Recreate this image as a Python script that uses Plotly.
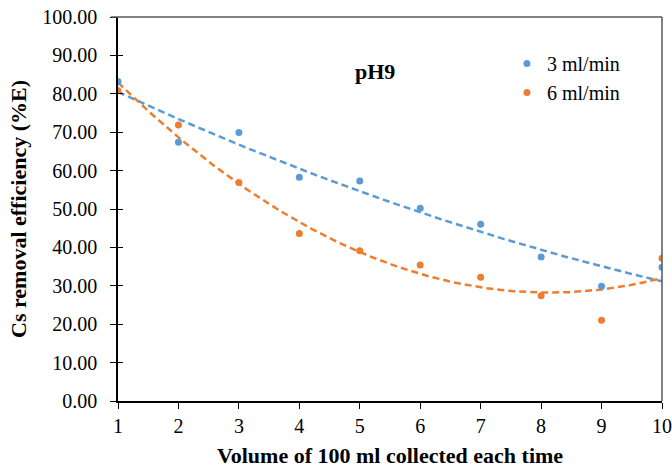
import numpy as np
import plotly.graph_objects as go

# Data
volumes = [1, 2, 3, 4, 5, 6, 7, 8, 9, 10]
eff_3ml = [83.2, 67.4, 69.9, 58.3, 57.3, 50.2, 46.0, 37.5, 29.9, 34.8]
eff_6ml = [80.8, 71.9, 56.9, 43.6, 39.1, 35.4, 32.2, 27.4, 21.0, 37.2]
series_names = ["3 ml/min", "6 ml/min"]
y_ticks = [0, 10, 20, 30, 40, 50, 60, 70, 80, 90, 100]

BLUE = "#5B9BD5"
ORANGE = "#ED7D31"
FONT = "Liberation Serif, Times New Roman, serif"

fig = go.Figure()

xfit = np.linspace(1, 10, 200)
for vals, col in [(eff_3ml, BLUE), (eff_6ml, ORANGE)]:
    coef = np.polyfit(volumes, vals, 2)
    fig.add_trace(go.Scatter(
        x=xfit, y=np.polyval(coef, xfit), mode="lines",
        line=dict(color=col, width=2.5, dash="7px,4px"),
        showlegend=False, hoverinfo="skip"))

for name, vals, col in [(series_names[0], eff_3ml, BLUE), (series_names[1], eff_6ml, ORANGE)]:
    fig.add_trace(go.Scatter(
        x=volumes, y=vals, mode="markers", name=name,
        marker=dict(color=col, size=7)))

# invisible trace on overlay axis for crossing ticks
fig.add_trace(go.Scatter(x=[None], y=[None], yaxis="y2", showlegend=False))

fig.update_layout(
    width=672, height=472,
    margin=dict(l=118, r=10, t=17, b=71, autoexpand=False),
    paper_bgcolor="white", plot_bgcolor="white",
    font=dict(family=FONT, size=20, color="black"),
    xaxis=dict(
        range=[1, 10], tickmode="array", tickvals=volumes,
        ticks="outside", ticklen=6, tickcolor="black", tickwidth=1,
        showline=True, linecolor="black", linewidth=1.5,
        showgrid=False, zeroline=False, automargin=False,
        tickfont=dict(family=FONT, size=20),
        title=dict(text="<b>Volume of 100 ml collected each time</b>",
                   font=dict(family=FONT, size=22), standoff=12),
    ),
    yaxis=dict(
        range=[0, 100], tickmode="array", tickvals=y_ticks,
        tickformat=".2f",
        ticks="outside", ticklen=6, tickcolor="black", tickwidth=1,
        ticklabelstandoff=9,
        showline=True, linecolor="black", linewidth=1.5,
        showgrid=False, zeroline=False, automargin=False,
        tickfont=dict(family=FONT, size=20),
        title=dict(text="<b>Cs removal efficiency (%E)</b>",
                   font=dict(family=FONT, size=22), standoff=10),
    ),
    yaxis2=dict(
        range=[0, 100], tickmode="array", tickvals=y_ticks,
        overlaying="y", side="left", ticks="inside", ticklen=5,
        tickcolor="black", showticklabels=False, showgrid=False,
        zeroline=False, showline=False, automargin=False,
    ),
    legend=dict(
        x=0.715, y=0.93, xanchor="left", yanchor="top",
        bgcolor="rgba(0,0,0,0)", font=dict(family=FONT, size=20),
        itemwidth=30, tracegroupgap=0,
    ),
    shapes=[
        dict(type="line", xref="paper", yref="paper", x0=-0.013, x1=1, y0=1, y1=1,
             line=dict(color="#595959", width=1.5)),
        dict(type="line", xref="paper", yref="paper", x0=1, x1=1, y0=0, y1=1,
             line=dict(color="#595959", width=1.5)),
    ],
    annotations=[
        dict(text="<b>pH9</b>", xref="paper", yref="paper", x=0.472, y=0.857,
             xanchor="center", yanchor="middle",
             showarrow=False, font=dict(family=FONT, size=22)),
    ],
)

fig.write_html("out.html")
